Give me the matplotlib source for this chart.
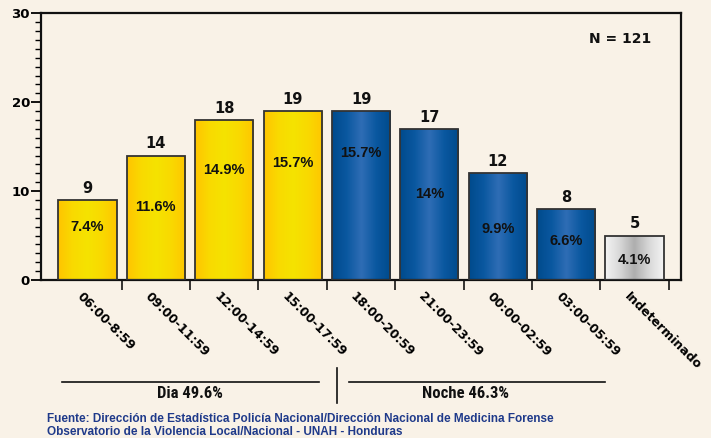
import matplotlib
matplotlib.use("Agg")
import matplotlib.pyplot as plt
import numpy as np
from matplotlib.colors import LinearSegmentedColormap
from matplotlib.ticker import MultipleLocator, FixedLocator
import matplotlib.transforms as mtransforms

# ---- data ----
categories = ["06:00-8:59", "09:00-11:59", "12:00-14:59", "15:00-17:59",
              "18:00-20:59", "21:00-23:59", "00:00-02:59", "03:00-05:59",
              "Indeterminado"]
counts = [9, 14, 18, 19, 19, 17, 12, 8, 5]
percents = ["7.4%", "11.6%", "14.9%", "15.7%", "15.7%", "14%", "9.9%", "6.6%", "4.1%"]
groups = ["dia", "dia", "dia", "dia", "noche", "noche", "noche", "noche", "ind"]
n_label = "N = 121"
dia_label = "Dia 49.6%"
noche_label = "Noche 46.3%"
source_lines = ["Fuente: Dirección de Estadística Policía Nacional/Dirección Nacional de Medicina Forense",
                "Observatorio de la Violencia Local/Nacional - UNAH - Honduras"]
# vertical placement of percentage label inside each bar (fraction of bar height)
pct_frac = [0.66, 0.59, 0.69, 0.69, 0.75, 0.57, 0.48, 0.55, 0.45]

BG = "#F9F2E7"
cmaps = {
    "dia": LinearSegmentedColormap.from_list("y", ["#FFC400", "#F9DA00", "#F5E300", "#F9D900", "#FFC600"]),
    "noche": LinearSegmentedColormap.from_list("b", ["#004A8C", "#0A58A0", "#2F6DB5", "#0A58A0", "#004A8C"]),
    "ind": LinearSegmentedColormap.from_list("g", ["#F4F4F4", "#D8D8D8", "#AEAEAE", "#D8D8D8", "#F4F4F4"]),
}
ARIAL = ["Liberation Sans", "DejaVu Sans"]
NARROW = ["Roboto Condensed", "Liberation Sans", "DejaVu Sans"]

fig = plt.figure(figsize=(7.11, 4.38), dpi=100, facecolor=BG)
ax = fig.add_axes([41/711, 1-280/438, 640/711, (280-13.4)/438])
ax.set_facecolor(BG)

x = np.arange(len(categories))
width = 0.85
bars = ax.bar(x, counts, width=width, color="none", edgecolor="none", zorder=2)
grad = np.linspace(0, 1, 256).reshape(1, -1)
for b, g in zip(bars, groups):
    x0 = b.get_x()
    im = ax.imshow(grad, extent=[x0, x0 + b.get_width(), 0, b.get_height()],
                   aspect="auto", cmap=cmaps[g], zorder=2, interpolation="bicubic")
    im.set_clip_path(b)
ax.bar(x, counts, width=width, fill=False, edgecolor="#333333", linewidth=1.3, zorder=3)

ax.set_xlim(-0.68, len(categories) - 1 + 0.68)
ax.set_ylim(0, 30)
ax.set_aspect("auto")

# value labels and percentages
for xi, c, p, f in zip(x, counts, percents, pct_frac):
    ax.annotate(str(c), (xi, c), xytext=(0, 3), textcoords="offset points",
                ha="center", va="bottom", fontsize=10.5, fontweight="bold", color="#111111")
    ax.text(xi, c * f, p, ha="center", va="center", fontsize=10.5, fontweight="bold",
            family=ARIAL, color="#111111", zorder=4)

# axes styling
for s in ax.spines.values():
    s.set_linewidth(1.6)
    s.set_color("#111111")
ax.yaxis.set_major_locator(MultipleLocator(10))
ax.yaxis.set_minor_locator(MultipleLocator(1))
ax.tick_params(axis="y", which="major", length=7, width=1.3, direction="out", labelsize=9.5, pad=1)
ax.tick_params(axis="y", which="minor", length=4, width=1.0, direction="out")
for lbl in ax.get_yticklabels():
    lbl.set_fontweight("bold")

ax.set_xticks(x)
ax.xaxis.set_minor_locator(FixedLocator(list(x + 0.5)))
ax.set_xticklabels(categories, rotation=-45, ha="left", va="top", rotation_mode="anchor",
                   fontsize=9, fontweight="bold")
ax.tick_params(axis="x", which="major", length=0, pad=7)
ax.tick_params(axis="x", which="minor", length=7, width=1.1, direction="out")
offset = mtransforms.ScaledTranslation(-4/100, 0, fig.dpi_scale_trans)
for lbl in ax.get_xticklabels():
    lbl.set_transform(lbl.get_transform() + offset)

ax.text(0.905, 0.905, n_label, transform=ax.transAxes, ha="center", va="center",
        fontsize=10, fontweight="bold", color="#111111")

# Day / night annotation (figure pixel coords)
def fx(px): return px / 711
def fy(py): return 1 - py / 438
fig.add_artist(plt.Line2D([fx(62), fx(319)], [fy(382), fy(382)], color="#111111", lw=1.2))
fig.add_artist(plt.Line2D([fx(349), fx(605)], [fy(382), fy(382)], color="#111111", lw=1.2))
fig.add_artist(plt.Line2D([fx(337), fx(337)], [fy(368), fy(403)], color="#111111", lw=1.2))
fig.text(fx(190), fy(394), dia_label, ha="center", va="center", fontsize=12,
         fontweight="bold", family=NARROW, color="#111111")
fig.text(fx(466), fy(394), noche_label, ha="center", va="center", fontsize=12,
         fontweight="bold", family=NARROW, color="#111111")
fig.text(fx(47), fy(419), source_lines[0], ha="left", va="center", fontsize=8.5,
         fontweight="bold", family=ARIAL, color="#1F3A8A")
fig.text(fx(47), fy(432), source_lines[1], ha="left", va="center", fontsize=8.5,
         fontweight="bold", family=ARIAL, color="#1F3A8A")

fig.savefig("out.png", dpi=100, facecolor=BG)
